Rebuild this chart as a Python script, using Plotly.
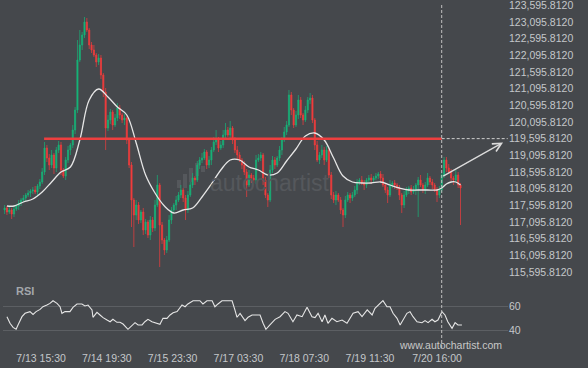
import plotly.graph_objects as go

# ---------------- data (BTC/USD hourly) ----------------
start_hour = 0  # hours since 7/13 00:00

close = [
    117515, 117395, 117455, 117335, 117485, 117575, 117665, 117755, 117815, 117905,
    117965, 118025, 118055, 117995, 118175, 118295, 118595, 119315, 119015, 118805,
    119105, 118715, 119255, 119405, 118655, 118475, 118955, 119255, 119405, 119855,
    120455, 121955, 122405, 122705, 123095, 122855, 122405, 122255, 122105, 121895,
    122015, 121505, 120995, 119915, 120155, 120395, 120005, 120215, 120515, 120305,
    120155, 120215, 119555, 118805, 117755, 117305, 117605, 117155, 117395, 116855,
    117095, 116705, 117155, 116915, 117605, 118205, 117005, 116555, 116255, 116555,
    117155, 117455, 117605, 117755, 117905, 118055, 117815, 117455, 117905, 118205,
    118415, 118355, 118805, 118955, 119015, 119195, 118805, 118955, 119255, 119495,
    119555, 119315, 119405, 119705, 119855, 119705, 119915, 119555, 119255, 119105,
    118955, 118805, 118595, 118205, 118505, 118415, 118355, 118955, 119015, 119105,
    118355, 117905, 117755, 118655, 118955, 118805, 119015, 119255, 119555, 119795,
    120005, 120905, 120455, 120005, 120305, 120755, 120305, 120155, 120455, 120755,
    120815, 120155, 119405, 118955, 119105, 119255, 118955, 119255, 118505, 117905,
    117755, 117905, 117755, 117455, 117305, 117755, 117905, 117815, 117905, 118055,
    118295, 118355, 118265, 118205, 118355, 118415, 118355, 118415, 118475, 118535,
    118415, 118205, 118055, 117905, 118205, 118265, 118205, 118115, 117905, 117605,
    117905, 118055, 118115, 117995, 118055, 118205, 118355, 118205, 118055, 118205,
    118415, 118295, 118205, 118055, 117905, 118055, 118505, 118955, 118715, 118595,
    118415, 118355, 118505, 118205, 118115,
]
first_open = 117455

upper_wick = [
    90, 60, 120, 60, 90, 60, 90, 60, 90, 60,
    90, 60, 90, 120, 60, 90, 120, 180, 90, 120,
    150, 60, 90, 120, 90, 60, 90, 120, 60, 150,
    90, 600, 450, 90, 150, 120, 60, 90, 150, 60,
    120, 90, 60, 120, 150, 90, 60, 120, 150, 90,
    60, 120, 90, 60, 90, 60, 150, 90, 60, 120,
    90, 60, 120, 90, 150, 300, 60, 90, 60, 120,
    150, 90, 60, 120, 90, 150, 60, 90, 120, 90,
    150, 60, 120, 90, 150, 90, 60, 120, 90, 150,
    300, 90, 120, 150, 210, 90, 210, 60, 90, 120,
    90, 60, 120, 90, 150, 60, 90, 150, 120, 90,
    60, 90, 60, 150, 120, 90, 60, 120, 90, 150,
    120, 150, 90, 60, 120, 150, 90, 60, 120, 90,
    150, 90, 60, 120, 90, 150, 90, 120, 60, 90,
    90, 120, 60, 90, 60, 120, 90, 60, 90, 120,
    90, 60, 120, 90, 60, 90, 120, 60, 90, 60,
    90, 120, 60, 90, 150, 60, 90, 60, 90, 60,
    120, 90, 60, 90, 120, 60, 90, 150, 60, 90,
    150, 60, 90, 60, 90, 120, 90, 90, 90, 120,
    90, 60, 150, 90, 60,
]
lower_wick = [
    120, 90, 60, 150, 90, 60, 120, 90, 60, 90,
    60, 120, 90, 60, 150, 90, 60, 90, 120, 150,
    90, 180, 120, 90, 150, 60, 120, 90, 150, 90,
    120, 90, 60, 150, 90, 60, 120, 90, 60, 150,
    90, 120, 150, 660, 90, 120, 150, 60, 90, 120,
    90, 150, 120, 90, 810, 960, 150, 120, 90, 150,
    120, 90, 150, 120, 90, 60, 1260, 120, 150, 90,
    60, 120, 90, 150, 60, 90, 120, 300, 90, 60,
    90, 150, 60, 120, 90, 60, 120, 90, 150, 60,
    90, 120, 60, 90, 150, 60, 90, 120, 90, 150,
    60, 120, 90, 360, 60, 150, 90, 120, 60, 90,
    150, 90, 210, 60, 90, 120, 60, 90, 150, 60,
    90, 60, 150, 90, 60, 120, 90, 150, 60, 90,
    120, 90, 150, 60, 120, 90, 150, 60, 90, 120,
    90, 150, 60, 120, 360, 90, 60, 150, 90, 60,
    120, 90, 60, 150, 90, 60, 120, 90, 60, 90,
    150, 60, 90, 240, 60, 90, 120, 60, 150, 240,
    90, 60, 120, 90, 60, 150, 960, 60, 90, 120,
    60, 90, 120, 60, 210, 90, 60, 90, 120, 60,
    90, 150, 60, 90, 1110,
]

ma_hours = [1, 4, 8, 12, 16, 20, 24, 28, 32, 36, 40, 44, 48, 52, 56, 60, 64, 68, 72, 76,
            80, 84, 88, 92, 96, 100, 104, 108, 112, 116, 120, 124, 128, 132, 136, 140,
            144, 148, 152, 156, 160, 164, 168, 172, 176, 180, 184, 186, 188, 190, 192, 194]
ma_values = [117575, 117575, 117695, 117785, 117995, 118295, 118595, 118745, 119555, 120755,
             121085, 120845, 120545, 120305, 119465, 118505, 117965, 117575, 117365, 117455,
             117515, 117845, 118235, 118655, 118955, 118955, 118745, 118655, 118505, 118565,
             118925, 119285, 119675, 119765, 119555, 119015, 118475, 118295, 118265, 118265,
             118295, 118205, 118115, 118055, 118055, 118055, 118055, 118115, 118235, 118295,
             118295, 118205]

rsi_hours = [1.0, 2.3, 3.6, 4.9, 5.7, 7.4, 8.7, 10.8, 12.1, 13.4, 15.1, 16.3, 18.0, 19.3, 20.6,
             22.3, 23.6, 24.4, 25.7, 27.8, 29.1, 30.8, 32.9, 34.2, 35.5, 37.2, 37.6, 39.3, 40.6,
             41.9, 43.6, 44.9, 46.1, 47.8, 49.1, 50.4, 52.5, 54.2, 55.5, 56.8, 58.5, 59.7, 61.0,
             62.7, 64.9, 66.1, 67.4, 69.1, 70.4, 71.7, 73.4, 75.5, 76.8, 78.0, 80.2, 83.1, 84.4,
             86.1, 88.3, 89.5, 90.8, 92.5, 94.6, 96.8, 98.0, 98.9, 100.2, 102.3, 103.6, 105.3,
             107.4, 108.7, 110.0, 111.2, 112.9, 115.1, 117.2, 119.3, 120.6, 122.7, 124.4, 126.6,
             128.7, 130.8, 132.1, 133.4, 135.1, 136.3, 137.6, 139.3, 141.4, 143.6, 145.7, 147.0,
             148.3, 150.4, 152.1, 154.3, 156.4, 157.6, 159.7, 161.0, 162.7, 164.0, 165.3, 167.0,
             168.3, 169.5, 171.2, 172.5, 173.8, 175.5, 177.6, 178.9, 180.2, 181.9, 183.1, 184.4,
             186.1, 187.4, 188.6, 190.4, 191.7, 192.9, 194.6]
rsi_values = [51.1, 45.6, 42.2, 40.6, 44.2, 51.1, 53.9, 55.3, 53.0, 55.3, 57.2, 59.4, 60.8, 62.2, 64.4,
              62.2, 59.4, 53.9, 55.3, 55.3, 58.9, 61.7, 61.7, 60.0, 60.8, 56.7, 50.6, 54.7, 52.5,
              50.3, 48.3, 46.9, 48.9, 46.4, 46.4, 45.0, 40.6, 44.2, 46.1, 44.2, 44.2, 46.9, 48.9,
              46.9, 45.6, 44.7, 49.7, 49.7, 52.5, 54.4, 55.3, 60.8, 59.4, 61.7, 64.4, 64.4, 61.7,
              64.4, 64.4, 59.4, 61.7, 64.4, 64.4, 64.4, 56.7, 50.6, 53.9, 47.8, 50.6, 52.5,
              52.5, 52.5, 45.6, 40.6, 44.2, 48.9, 51.1, 55.3, 53.9, 46.9, 52.5, 51.1,
              58.9, 51.1, 50.3, 53.9, 46.9, 52.5, 45.6, 49.7, 46.9, 48.3, 45.6, 49.7,
              53.9, 55.3, 51.1, 56.7, 52.5, 58.0, 61.7, 64.4, 59.4, 59.4, 53.9, 49.7,
              44.2, 48.3, 53.9, 55.3, 51.1, 46.9, 46.1, 47.8, 46.1, 48.9, 46.9, 48.3,
              55.3, 52.5, 46.9, 41.4, 46.1, 44.2, 44.2]

level_price = 119595.812
pattern_start_hour = 16.8
pattern_end_hour = 186.0
forecast_end_hour = 212.1
forecast_start_price = 118445
forecast_end_price = 119480

price_ticks = [115595.812, 116095.812, 116595.812, 117095.812, 117595.812, 118095.812,
               118595.812, 119095.812, 119595.812, 120095.812, 120595.812, 121095.812,
               121595.812, 122095.812, 122595.812, 123095.812, 123595.812]
rsi_ticks = [40, 60]
time_tick_hours = [15.5, 43.5, 71.5, 99.5, 127.5, 155.5, 184.0]
time_tick_labels = ["7/13 15:30", "7/14 19:30", "7/15 23:30", "7/17 03:30",
                    "7/18 07:30", "7/19 11:30", "7/20 16:00"]

# ---------------- derived ----------------
hours = list(range(start_hour, start_hour + len(close)))
open_ = [first_open] + close[:-1]
high = [max(o, c) + u for o, c, u in zip(open_, close, upper_wick)]
low = [min(o, c) - l for o, c, l in zip(open_, close, lower_wick)]

BG = "#45484c"
TXT = "#c4c7ca"
GREEN = "#17b378"
RED = "#f23c3c"
FONT = "Liberation Sans, Arial, sans-serif"

W, H = 588, 368
ML, MR, MT, MB = 3, 80, 0, 20
plot_w = W - ML - MR
plot_h = H - MT - MB


def px_x(px):
    return (px - ML) / plot_w


def px_y(py):
    return (H - MB - py) / plot_h


fig = go.Figure()

fig.add_trace(go.Candlestick(
    x=hours, open=open_, high=high, low=low, close=close,
    increasing=dict(line=dict(color=GREEN, width=0.7), fillcolor=GREEN),
    decreasing=dict(line=dict(color=RED, width=0.7), fillcolor=RED),
    whiskerwidth=0, xaxis="x", yaxis="y", showlegend=False, hoverinfo="skip",
))

fig.add_trace(go.Scatter(
    x=ma_hours, y=ma_values, mode="lines", line=dict(color="#e6e6e6", width=1.3, shape="spline"),
    xaxis="x", yaxis="y", showlegend=False, hoverinfo="skip",
))

# resistance level
fig.add_trace(go.Scatter(
    x=[pattern_start_hour, pattern_end_hour], y=[level_price, level_price], mode="lines",
    line=dict(color="#ee3f3f", width=2.5), xaxis="x", yaxis="y", showlegend=False, hoverinfo="skip",
))
fig.add_trace(go.Scatter(
    x=[pattern_end_hour, forecast_end_hour + 2], y=[level_price, level_price], mode="lines",
    line=dict(color="#cfcfcf", width=1, dash="3px,2px"), xaxis="x", yaxis="y",
    showlegend=False, hoverinfo="skip",
))

fig.add_trace(go.Scatter(
    x=rsi_hours, y=rsi_values, mode="lines", line=dict(color="#e6e6e6", width=1.1),
    xaxis="x2", yaxis="y2", showlegend=False, hoverinfo="skip",
))

shapes = [
    dict(type="line", xref="x", yref="paper", x0=pattern_end_hour, x1=pattern_end_hour,
         y0=0, y1=px_y(4), line=dict(color="#bfbfbf", width=1, dash="3px,2px")),
]
# faint watermark logo bars
for (x0, y0, x1, y1) in [(177, 180, 181, 188), (183, 174, 187, 188), (189, 168, 193, 182),
                         (195, 163, 199, 176), (201, 166, 205, 172)]:
    shapes.append(dict(type="rect", xref="paper", yref="paper", x0=px_x(x0), x1=px_x(x1),
                       y0=px_y(y1), y1=px_y(y0), line=dict(width=0), fillcolor="#55585c",
                       layer="below"))

annotations = [
    dict(x=forecast_end_hour, y=forecast_end_price, ax=pattern_end_hour, ay=forecast_start_price,
         xref="x", yref="y", axref="x", ayref="y", text="", showarrow=True,
         arrowhead=5, arrowsize=1.3, arrowwidth=1.3, arrowcolor="#dcdcdc"),
    dict(x=px_x(270), y=px_y(183), xref="paper", yref="paper", text="autochartist",
         xanchor="center", yanchor="middle",
         showarrow=False, font=dict(family=FONT, size=23, color="#55585c")),
    dict(x=px_x(14), y=px_y(291), xref="paper", yref="paper", text="<b>RSI</b>",
         xanchor="left", yanchor="middle",
         showarrow=False, font=dict(family=FONT, size=11, color="#a3a7ab")),
    dict(x=px_x(450), y=px_y(345), xref="paper", yref="paper", text="www.autochartist.com",
         xanchor="center", yanchor="middle",
         showarrow=False, font=dict(family=FONT, size=10.5, color="#c8c8c8")),
]

x_range = [(ML - 4.6) / 2.35, (ML + plot_w - 4.6) / 2.35]

fig.update_layout(
    width=W, height=H, paper_bgcolor=BG, plot_bgcolor=BG,
    margin=dict(l=ML, r=MR, t=MT, b=MB, pad=0, autoexpand=False),
    font=dict(family=FONT, color=TXT, size=10.5),
    shapes=shapes, annotations=annotations,
    xaxis=dict(domain=[0, 1], anchor="y", range=x_range, showticklabels=False, showgrid=False,
               zeroline=False, showline=False, ticks="", automargin=False,
               rangeslider=dict(visible=False)),
    xaxis2=dict(domain=[0, 1], anchor="y2", range=x_range, matches="x", showgrid=False,
                zeroline=False, showline=False, ticks="", tickvals=time_tick_hours,
                ticktext=time_tick_labels, tickfont=dict(size=10.5, color=TXT), automargin=False,
                ticklabeloverflow="allow", ticklabelstandoff=2),
    yaxis=dict(domain=[px_y(280), 1], range=[123755 - 30 * 280, 123755], side="right",
               tickvals=price_ticks, tickformat=",.4f", showgrid=False, zeroline=False,
               showline=False, ticks="", tickfont=dict(size=10.5, color=TXT), automargin=False,
               ticklabeloverflow="allow"),
    yaxis2=dict(domain=[0, px_y(285)], range=[25, 77.5], side="right", tickvals=rsi_ticks,
                showgrid=True, gridcolor="#5c5f63", gridwidth=1, zeroline=False, showline=False,
                ticks="", tickfont=dict(size=10.5, color=TXT), automargin=False,
                ticklabeloverflow="allow"),
)

fig.write_html(
    "out.html",
    config={"displayModeBar": False},
    post_script="document.body.style.margin='0';document.body.style.background='#45484c';"
                "document.body.style.overflow='hidden';",
)
